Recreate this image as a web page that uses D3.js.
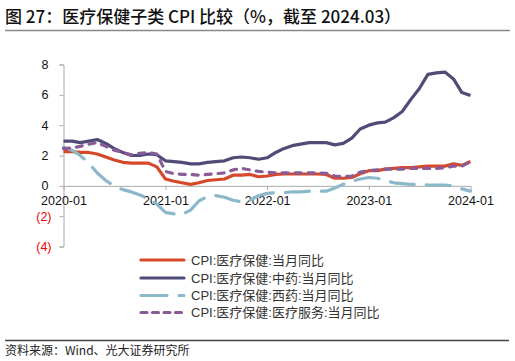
<!DOCTYPE html>
<html><head><meta charset="utf-8">
<script src="https://cdn.jsdelivr.net/npm/d3@7"></script>
<style>
body{margin:0;background:#fff;}
svg{display:block;font-family:"Liberation Sans","Noto Sans CJK SC",sans-serif;}
</style></head><body>
<svg id="c" width="515" height="361"></svg>
<script>
const months = d3.range(49).map(i => new Date(2020, i, 1));
const tickLabels = ["2020-01","2021-01","2022-01","2023-01","2024-01"];
const yTicks = [8,6,4,2,0,-2,-4];
const seriesNames = ["CPI:医疗保健:当月同比","CPI:医疗保健:中药:当月同比","CPI:医疗保健:西药:当月同比","CPI:医疗保健:医疗服务:当月同比"];
const medical = [2.25,2.25,2.2,2.2,2.1,1.9,1.7,1.55,1.5,1.5,1.5,1.25,0.45,0.3,0.2,0.1,0.2,0.35,0.4,0.45,0.7,0.7,0.75,0.6,0.65,0.75,0.78,0.78,0.78,0.78,0.78,0.75,0.5,0.5,0.55,0.8,1.0,1.0,1.1,1.15,1.2,1.2,1.25,1.3,1.3,1.3,1.45,1.35,1.6];
const tcm = [2.95,2.95,2.85,2.95,3.05,2.8,2.45,2.2,2.0,2.0,2.1,2.05,1.65,1.6,1.55,1.45,1.45,1.55,1.6,1.65,1.85,1.9,1.85,1.75,1.85,2.2,2.45,2.65,2.75,2.85,2.85,2.85,2.7,2.8,3.15,3.75,4.0,4.15,4.2,4.5,4.9,5.7,6.4,7.35,7.45,7.5,7.05,6.15,5.95];
const western = [2.55,2.35,2.0,1.5,0.85,0.35,0.0,-0.25,-0.4,-0.6,-0.85,-1.2,-1.75,-1.85,-1.9,-1.6,-1.0,-0.7,-0.65,-0.75,-0.95,-1.05,-0.95,-0.65,-0.5,-0.45,-0.45,-0.4,-0.4,-0.35,-0.35,-0.35,-0.15,0.1,0.3,0.45,0.55,0.5,0.35,0.2,0.15,0.1,0.1,0.05,0.05,0.05,0.0,-0.2,-0.35];
const service = [2.45,2.5,2.6,2.75,2.85,2.6,2.35,2.2,2.05,2.15,2.2,2.1,0.95,0.8,0.75,0.75,0.7,0.75,0.8,0.85,1.05,1.15,1.05,0.95,0.9,0.85,0.85,0.85,0.85,0.85,0.85,0.82,0.65,0.6,0.65,0.9,1.0,1.05,1.1,1.1,1.1,1.15,1.15,1.15,1.15,1.2,1.3,1.3,1.6];

const svg = d3.select("#c");
const x = d3.scaleTime().domain([months[0], months[48]]).range([63.5, 470.5]);
const y = d3.scaleLinear().domain([-4, 8]).range([246.5, 64.5]);

// title
svg.append("text").attr("x",5).attr("y",23).attr("font-size",17).attr("font-weight",500)
  .attr("font-family","'Noto Sans CJK SC',sans-serif").attr("fill","#111")
  .text("图 27：医疗保健子类 CPI 比较（%，截至 2024.03）");
svg.append("line").attr("x1",5).attr("x2",510).attr("y1",30.5).attr("y2",30.5).attr("stroke","#888").attr("stroke-width",1.5);

// y axis
const yAxis = svg.append("g").attr("transform","translate(63.5,0)")
  .call(d3.axisLeft(y).tickValues(yTicks).tickSize(4).tickFormat(d => d < 0 ? "(" + (-d) + ")" : d));
yAxis.select(".domain").attr("stroke","#aaa");
yAxis.selectAll(".tick line").attr("stroke","#aaa");
yAxis.selectAll(".tick text").attr("font-size",12.5).attr("font-family","'Liberation Sans',sans-serif")
  .attr("x",d => d < 0 ? -12 : -15).attr("fill",d => d < 0 ? "#e00" : "#111");

// x axis at zero
const xTickDates = tickLabels.map(s => new Date(+s.slice(0,4), 0, 1));
const xAxis = svg.append("g").attr("transform","translate(0," + y(0) + ")")
  .call(d3.axisBottom(x).tickValues(xTickDates).tickSize(4).tickSizeOuter(0).tickFormat((d,i) => tickLabels[i]));
xAxis.select(".domain").attr("stroke","#aaa");
xAxis.selectAll(".tick line").attr("stroke","#aaa");
xAxis.selectAll(".tick text").attr("font-size",12.5).attr("font-family","'Liberation Sans',sans-serif").attr("fill","#111").attr("dy","0.95em");

const styles = [
  {data: medical, color: "#d5492a", dash: null},
  {data: tcm, color: "#504c78", dash: null},
  {data: western, color: "#8cb8cc", dash: "24,12"},
  {data: service, color: "#8a5b96", dash: "6,7"}
];
const line = d3.line().x((d,i) => x(months[i])).y(d => y(d));
styles.forEach(s => {
  svg.append("path").datum(s.data).attr("d", line).attr("fill","none")
    .attr("stroke", s.color).attr("stroke-width", 3.2).attr("stroke-linejoin","round")
    .attr("stroke-linecap", s.dash ? "round" : "butt")
    .attr("stroke-dasharray", s.dash);
});

// legend
const legY = [260, 278, 295.5, 312.5];
styles.forEach((s,i) => {
  svg.append("line").attr("x1",141).attr("x2",184).attr("y1",legY[i]).attr("y2",legY[i])
    .attr("stroke",s.color).attr("stroke-width",3.2).attr("stroke-linecap","round")
    .attr("stroke-dasharray", s.dash ? (i===2 ? "26,12" : "6,5.5") : null);
  svg.append("text").attr("x",191).attr("y",legY[i]+4.5).attr("font-size",13).attr("fill","#333")
    .text(seriesNames[i]);
});

// source
svg.append("line").attr("x1",5).attr("x2",509).attr("y1",340.5).attr("y2",340.5).attr("stroke","#444").attr("stroke-width",1.5);
svg.append("text").attr("x",5).attr("y",355).attr("font-size",12).attr("fill","#222")
  .attr("font-family","'Noto Sans CJK SC',sans-serif").text("资料来源：Wind、光大证券研究所");
</script></body></html>
